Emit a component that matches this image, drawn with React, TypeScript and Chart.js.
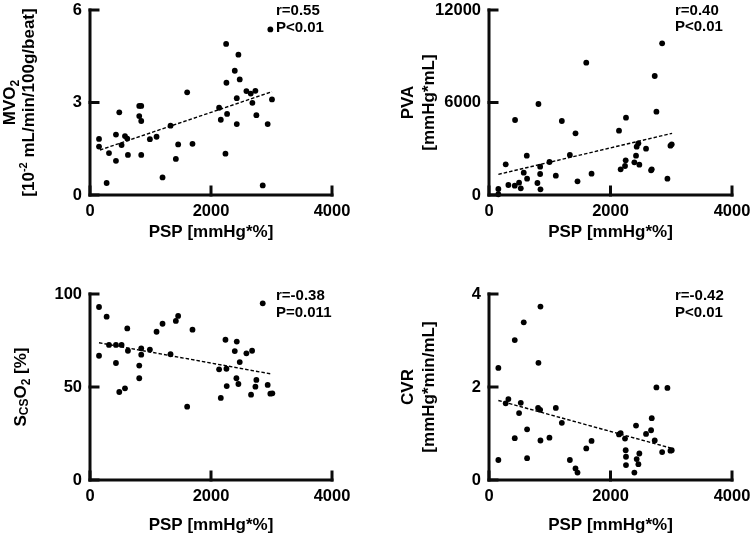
import React, { useEffect, useRef } from "react";
import { Chart, registerables } from "chart.js";

Chart.register(...registerables);

const FONT = '"Liberation Sans", Arial, Helvetica, sans-serif';
const AXIS_COLOR = "#0b0b0b";

// ---------- shared axis ----------
const xTicks = [0, 2000, 4000];
const xTitle = "PSP [mmHg*%]";

// ---------- MVO2 ----------
const mvoX = [149, 149, 275, 314, 429, 484, 429, 522, 578, 616, 627, 814, 847, 814, 847, 847, 990, 1100, 1199, 1331, 1419, 1457, 1606, 1694, 2134, 2162, 2239, 2250, 2255, 2266, 2393, 2426, 2426, 2453, 2475, 2585, 2657, 2684, 2734, 2750, 2855, 2937, 2981, 3008];
const mvoY = [1.82, 1.57, 0.39, 1.36, 1.96, 2.68, 1.11, 1.62, 1.91, 1.83, 1.3, 2.89, 2.89, 2.56, 2.4, 1.3, 1.81, 1.89, 0.57, 2.25, 1.17, 1.64, 3.33, 1.66, 2.83, 2.44, 1.34, 4.9, 3.64, 2.63, 4.03, 3.14, 2.3, 4.55, 3.75, 3.37, 3.29, 2.99, 3.38, 2.59, 0.31, 2.3, 5.37, 3.1];
const mvoFitX = [165, 3008];
const mvoFitY = [1.46, 3.35];
const mvoTicks = [0, 3, 6];
const mvoStats = ["r=0.55", "P<0.01"];

// ---------- PVA ----------
const pvaX = [154, 154, 275, 319, 429, 424, 495, 523, 572, 622, 627, 797, 814, 842, 842, 847, 995, 1100, 1199, 1331, 1424, 1457, 1601, 1688, 2140, 2167, 2239, 2255, 2250, 2393, 2420, 2431, 2459, 2475, 2585, 2668, 2679, 2728, 2756, 2850, 2937, 2987, 3008];
const pvaY = [389, 50, 1990, 649, 4865, 605, 800, 432, 1449, 2551, 1059, 778, 5902, 1838, 1362, 367, 2140, 1254, 4800, 2594, 4000, 887, 8582, 1384, 4173, 1665, 1881, 5015, 2249, 2119, 2551, 3135, 3352, 1968, 3005, 1600, 1665, 7718, 5405, 9839, 1059, 3200, 3286];
const pvaFitX = [154, 3014];
const pvaFitY = [1340, 4000];
const pvaTicks = [0, 6000, 12000];
const pvaStats = ["r=0.40", "P<0.01"];

// ---------- ScsO2 ----------
const scsX = [149, 275, 149, 314, 429, 522, 429, 484, 578, 616, 627, 814, 814, 847, 847, 990, 1100, 1199, 1331, 1419, 1457, 1606, 1694, 2134, 2162, 2239, 2255, 2260, 2393, 2426, 2420, 2453, 2475, 2585, 2662, 2679, 2734, 2750, 2855, 2937, 2981, 3014];
const scsY = [93.0, 87.8, 66.8, 72.6, 72.6, 72.6, 62.9, 47.3, 49.3, 81.5, 69.5, 61.5, 54.7, 70.8, 67.4, 70.1, 79.7, 84.0, 67.6, 85.5, 88.2, 39.4, 80.8, 59.5, 44.1, 75.4, 59.8, 50.5, 69.3, 74.4, 54.7, 51.6, 63.4, 68.1, 45.9, 69.5, 50.2, 53.8, 95.0, 51.1, 46.4, 46.6];
const scsFitX = [149, 2997];
const scsFitY = [73.8, 57.0];
const scsTicks = [0, 50, 100];
const scsStats = ["r=-0.38", "P=0.011"];

// ---------- CVR ----------
const cvrX = [154, 154, 275, 319, 424, 424, 495, 523, 572, 627, 627, 814, 808, 842, 847, 847, 995, 1100, 1199, 1331, 1424, 1457, 1601, 1688, 2140, 2167, 2239, 2250, 2255, 2255, 2393, 2420, 2431, 2459, 2475, 2585, 2668, 2679, 2728, 2756, 2850, 2937, 2987, 3008];
const cvrY = [2.41, 0.43, 1.65, 1.74, 3.01, 0.9, 1.44, 1.66, 3.39, 1.09, 0.47, 2.52, 1.55, 1.51, 3.73, 0.85, 0.91, 1.55, 1.23, 0.43, 0.25, 0.16, 0.68, 0.84, 0.98, 1.01, 0.89, 0.64, 0.5, 0.32, 0.16, 1.17, 0.45, 0.34, 0.57, 0.99, 1.07, 1.33, 0.85, 1.99, 0.6, 1.98, 0.63, 0.64];
const cvrFitX = [154, 2998];
const cvrFitY = [1.71, 0.685];
const cvrTicks = [0, 2, 4];
const cvrStats = ["r=-0.42", "P<0.01"];

type Seg = { t: string; s: number; dy: number };
type TitleLine = { segs: Seg[]; baseX: number };

interface Spec {
  left: number;
  top: number;
  width: number;
  height: number;
  padLeft: number;
  padRight: number;
  padTop: number;
  xHeight: number;
  xs: number[];
  ys: number[];
  fitX: number[];
  fitY: number[];
  yTicks: number[];
  yTitle: TitleLine[];
  stats: string[];
  statsX: number;
  statsBase: number[];
  xTitleBase: number;
}

const TICK_PX = 8;

function drawRich(ctx: CanvasRenderingContext2D, segs: Seg[]) {
  let total = 0;
  for (const sg of segs) {
    ctx.font = `bold ${sg.s}px ${FONT}`;
    total += ctx.measureText(sg.t).width;
  }
  let x = -total / 2;
  for (const sg of segs) {
    ctx.font = `bold ${sg.s}px ${FONT}`;
    ctx.fillText(sg.t, x, sg.dy);
    x += ctx.measureText(sg.t).width;
  }
}

function makePlugin(spec: Spec) {
  return {
    id: "titlesdecor",
    afterDraw(chart: any) {
      const ctx: CanvasRenderingContext2D = chart.ctx;
      const sx = chart.scales.x;
      const sy = chart.scales.y;
      const l = sx.getPixelForValue(xTicks[0]);
      const r = sx.getPixelForValue(xTicks[xTicks.length - 1]);
      const b = sy.getPixelForValue(spec.yTicks[0]);
      const t = sy.getPixelForValue(spec.yTicks[spec.yTicks.length - 1]);
      ctx.save();
      ctx.fillStyle = "#000";
      ctx.font = `bold 17px ${FONT}`;
      ctx.textAlign = "center";
      ctx.textBaseline = "alphabetic";
      ctx.fillText(xTitle, (l + r) / 2, spec.xTitleBase);
      ctx.textAlign = "left";
      const cy = (t + b) / 2;
      for (const line of spec.yTitle) {
        ctx.save();
        ctx.translate(line.baseX, cy);
        ctx.rotate(-Math.PI / 2);
        drawRich(ctx, line.segs);
        ctx.restore();
      }
      ctx.font = `bold 15px ${FONT}`;
      ctx.textAlign = "left";
      spec.stats.forEach((s, i) => ctx.fillText(s, spec.statsX, spec.statsBase[i]));
      ctx.restore();
    },
  };
}

function axisLine(data: { x: number; y: number }[]) {
  return {
    data,
    showLine: true,
    borderColor: AXIS_COLOR,
    borderWidth: 3,
    borderCapStyle: "square" as const,
    borderJoinStyle: "miter" as const,
    pointRadius: 0,
    clip: false as any,
  };
}

function Panel({ spec }: { spec: Spec }) {
  const ref = useRef<HTMLCanvasElement>(null);
  useEffect(() => {
    const pts = spec.xs.map((x, i) => ({ x, y: spec.ys[i] }));
    const fit = spec.fitX.map((x, i) => ({ x, y: spec.fitY[i] }));
    const x0 = xTicks[0];
    const x1 = xTicks[xTicks.length - 1];
    const y0 = spec.yTicks[0];
    const y1 = spec.yTicks[spec.yTicks.length - 1];
    const plotW = spec.width - spec.padLeft - spec.padRight;
    const plotH = spec.height - spec.padTop - spec.xHeight;
    const tickDX = ((x1 - x0) * TICK_PX) / plotW;
    const tickDY = ((y1 - y0) * TICK_PX) / plotH;
    const axisSets = [
      axisLine([
        { x: x0, y: y1 },
        { x: x0, y: y0 },
        { x: x1, y: y0 },
      ]),
      ...spec.yTicks.map((v) => axisLine([{ x: x0, y: v }, { x: x0 + tickDX, y: v }])),
      ...xTicks.map((v) => axisLine([{ x: v, y: y0 }, { x: v, y: y0 + tickDY }])),
    ];
    const tickFont = { family: FONT, size: 16.5, weight: "bold" as const };
    const chart = new Chart(ref.current!, {
      type: "scatter",
      data: {
        datasets: [
          ...axisSets,
          {
            data: pts,
            backgroundColor: "#000",
            borderColor: "#000",
            pointRadius: 2.9,
            pointBorderWidth: 0,
            clip: false as any,
          },
          {
            data: fit,
            showLine: true,
            borderColor: "#000",
            borderWidth: 1.4,
            borderDash: [3.5, 2],
            pointRadius: 0,
            clip: false as any,
          },
        ],
      },
      options: {
        animation: false,
        responsive: false,
        devicePixelRatio: 1,
        layout: { padding: { left: 0, right: spec.padRight, top: spec.padTop, bottom: 0 } },
        plugins: { legend: { display: false }, tooltip: { enabled: false } },
        scales: {
          x: {
            type: "linear",
            min: x0,
            max: x1,
            afterBuildTicks: (s: any) => {
              s.ticks = xTicks.map((v) => ({ value: v }));
            },
            afterFit: (s: any) => {
              s.height = spec.xHeight;
              s.paddingLeft = 0;
              s.paddingRight = 0;
            },
            grid: { display: false, drawTicks: false },
            border: { display: false },
            ticks: {
              font: tickFont,
              color: "#000",
              padding: 7,
              maxRotation: 0,
              autoSkip: false,
              callback: (v: any) => String(v),
            },
          },
          y: {
            type: "linear",
            min: y0,
            max: y1,
            afterBuildTicks: (s: any) => {
              s.ticks = spec.yTicks.map((v) => ({ value: v }));
            },
            afterFit: (s: any) => {
              s.width = spec.padLeft;
              s.paddingTop = 0;
              s.paddingBottom = 0;
            },
            grid: { display: false, drawTicks: false },
            border: { display: false },
            ticks: { font: tickFont, color: "#000", padding: 8, callback: (v: any) => String(v) },
          },
        },
      },
      plugins: [makePlugin(spec)],
    });
    return () => chart.destroy();
  }, [spec]);
  return (
    <canvas
      ref={ref}
      width={spec.width}
      height={spec.height}
      style={{ position: "absolute", left: spec.left, top: spec.top }}
    />
  );
}

const specs: Spec[] = [
  {
    left: 0, top: 0, width: 376, height: 268,
    padLeft: 90, padRight: 44, padTop: 10, xHeight: 73,
    xs: mvoX, ys: mvoY, fitX: mvoFitX, fitY: mvoFitY, yTicks: mvoTicks,
    yTitle: [
      { baseX: 15, segs: [{ t: "MVO", s: 17, dy: 0 }, { t: "2", s: 12, dy: 4 }] },
      { baseX: 34, segs: [{ t: "[10", s: 17, dy: 0 }, { t: "-2", s: 11, dy: -7 }, { t: " mL/min/100g/beat]", s: 17, dy: 0 }] },
    ],
    stats: mvoStats, statsX: 276, statsBase: [15, 32], xTitleBase: 237,
  },
  {
    left: 376, top: 0, width: 377, height: 268,
    padLeft: 113, padRight: 21, padTop: 10, xHeight: 73,
    xs: pvaX, ys: pvaY, fitX: pvaFitX, fitY: pvaFitY, yTicks: pvaTicks,
    yTitle: [
      { baseX: 37, segs: [{ t: "PVA", s: 17, dy: 0 }] },
      { baseX: 58, segs: [{ t: "[mmHg*mL]", s: 17, dy: 0 }] },
    ],
    stats: pvaStats, statsX: 299, statsBase: [15, 31], xTitleBase: 237,
  },
  {
    left: 0, top: 268, width: 376, height: 268,
    padLeft: 90, padRight: 44, padTop: 26, xHeight: 56,
    xs: scsX, ys: scsY, fitX: scsFitX, fitY: scsFitY, yTicks: scsTicks,
    yTitle: [
      {
        baseX: 26,
        segs: [
          { t: "S", s: 17, dy: 0 },
          { t: "CS", s: 12, dy: 2 },
          { t: "O", s: 17, dy: 0 },
          { t: "2", s: 12, dy: 4 },
          { t: " [%]", s: 17, dy: 0 },
        ],
      },
    ],
    stats: scsStats, statsX: 276, statsBase: [32, 49], xTitleBase: 262,
  },
  {
    left: 376, top: 268, width: 377, height: 268,
    padLeft: 113, padRight: 21, padTop: 26, xHeight: 56,
    xs: cvrX, ys: cvrY, fitX: cvrFitX, fitY: cvrFitY, yTicks: cvrTicks,
    yTitle: [
      { baseX: 37, segs: [{ t: "CVR", s: 17, dy: 0 }] },
      { baseX: 58, segs: [{ t: "[mmHg*min/mL]", s: 17, dy: 0 }] },
    ],
    stats: cvrStats, statsX: 299, statsBase: [32, 49], xTitleBase: 262,
  },
];

export default function App() {
  return (
    <>
      {specs.map((s, i) => (
        <Panel key={i} spec={s} />
      ))}
    </>
  );
}
